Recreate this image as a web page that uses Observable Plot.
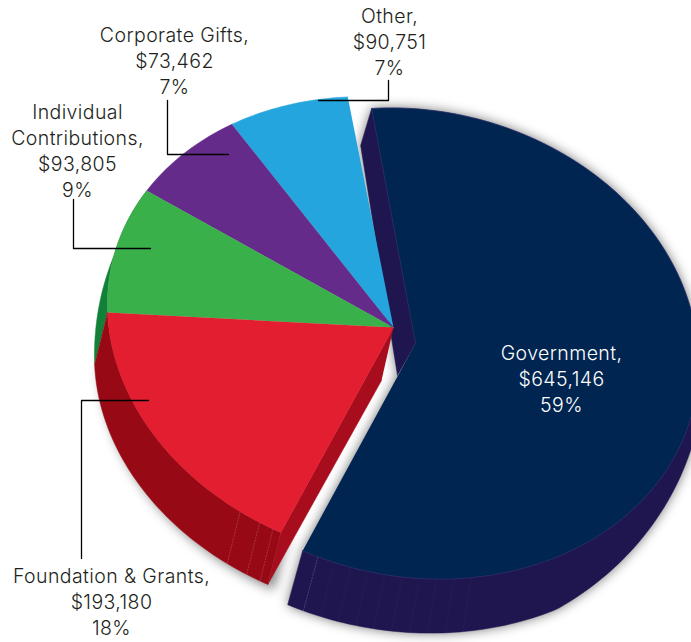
<!DOCTYPE html>
<html><head><meta charset="utf-8">
<script src="https://cdn.jsdelivr.net/npm/d3@7"></script>
<script src="https://cdn.jsdelivr.net/npm/@observablehq/plot@0.6"></script>
<style>
html,body{margin:0;padding:0;background:#fff}
svg text{letter-spacing:.4px}
</style></head><body><div id="chart"></div>
<script>
const categories = ["Government","Foundation & Grants","Individual\nContributions","Corporate Gifts","Other"];
const amounts = [645146,193180,93805,73462,90751];
const percents = [59,18,9,7,7];

const faceColors = ["#002551","#e31e30","#3ab04b","#642b8a","#25a5dd"];
const wallColors = ["#1f1650","#970a15","#128038"];
const redCutColor = "#a80d1e";
const seamDegrees = {gov:[201,197.5,194,190.5,187,183.5,180,176.5,173,169.5], red:[206,209,213.5]};

const W = 691, H = 642;
const startDeg = -8.1;
const rad = Math.PI/180;
const clamp = (v,a,b)=>Math.max(a,Math.min(b,v));
const group = {ax:393, ay:327, cx:393, cy:329, rx:286, ry:232, shear:0.072, xsk:-5.5, apexB:[-12,53],
  off:a=>[-13, 52-48*Math.max(0,Math.cos(a))]};
const gov = {ax:415, ay:343, cx:415, cy:343, rx:283, ry:235, shear:0.06, xsk:-4, apexB:[-18,32],
  off:a=>{ const deg=a/rad;
    if (deg<0) return [-11,37];
    const t=clamp((deg-95)/55,0,1);
    return [clamp(-15+(204-deg)*0.2,-15,6), 54*Math.pow(t,0.7)]; }};

const arcs = d3.pie().sort(null).startAngle(startDeg*rad).endAngle((startDeg+360)*rad)(percents);
const top_ = (g,a) => { const s=Math.sin(a), c=Math.cos(a);
  return [g.cx+g.rx*s+g.xsk*c, g.cy-g.ry*c+g.shear*g.rx*s]; };
const bot_ = (g,a) => { const [x,y]=top_(g,a), [ox,oy]=g.off(a); return [x+ox,y+oy]; };
const steps = (a0,a1) => { const n=Math.ceil((a1-a0)/0.02); return d3.range(n+1).map(i=>a0+(a1-a0)*i/n); };

const faces=[], outer=[], cuts=[];
arcs.forEach((d,i)=>{
  const g = i===0?gov:group, as=steps(d.startAngle,d.endAngle);
  const apex=[g.ax,g.ay], apexB=[g.ax+g.apexB[0],g.ay+g.apexB[1]];
  [apex,...as.map(a=>top_(g,a))].forEach(([x,y])=>faces.push({x,y,i}));
  const wallAs = i===0 ? as.filter(a=>a>=90*rad) : as;
  [...wallAs.map(a=>top_(g,a)),...wallAs.slice().reverse().map(a=>bot_(g,a))].forEach(([x,y])=>outer.push({x,y,i}));
  [apex,top_(g,d.startAngle),bot_(g,d.startAngle),apexB].forEach(([x,y])=>cuts.push({x,y,k:i+"s"}));
  [apex,top_(g,d.endAngle),bot_(g,d.endAngle),apexB].forEach(([x,y])=>cuts.push({x,y,k:i+"e"}));
});
const seams = (g,list)=>list.map(deg=>{const a=deg*rad,[x1,y1]=top_(g,a),[x2,y2]=bot_(g,a);return {x1,y1,x2,y2};});

const labelText = categories.map((c,i)=>`${c},\n$${d3.format(",")(amounts[i])}\n${percents[i]}%`);
const labelPos = [[561,377],[111,600],[77,149],[174,59],[389,40]];
const labels = labelText.map((t,i)=>({t,x:labelPos[i][0],y:labelPos[i][1],i}));
const leaders = [
  [[81,558],[81,400],[148,400]],
  [[73,199],[73,248],[150,248]],
  [[167,100],[167,154],[228,154]],
  [[318,100],[388,100],[388,80]]
].flatMap((pts,k)=>pts.map(([x,y])=>({x,y,k})));

const byI = (arr,i)=>arr.filter(d=>d.i===i);
const chart = Plot.plot({
  width:W,height:H,margin:0,
  x:{domain:[0,W],range:[0,W],axis:null},
  y:{domain:[0,H],range:[0,H],axis:null},
  marks:[
    Plot.line(byI(faces,0),{x:"x",y:"y",fill:"#000",fillOpacity:0.55,stroke:"none",imageFilter:"blur(6px)"}),
    Plot.line(byI(outer,0),{x:"x",y:"y",fill:"#000",fillOpacity:0.55,stroke:"none",imageFilter:"blur(6px)"}),
    Plot.line(cuts.filter(d=>d.k==="0s"),{x:"x",y:"y",fill:"#000",fillOpacity:0.55,stroke:"none",imageFilter:"blur(6px)"}),
    Plot.line(byI(outer,1),{x:d=>d.x+6,y:d=>d.y+5,fill:"#000",fillOpacity:0.5,stroke:"none",imageFilter:"blur(6px)"}),
    Plot.line(cuts.filter(d=>d.k==="0s"),{x:"x",y:"y",fill:wallColors[0],stroke:wallColors[0],strokeWidth:0.5}),
    ...[2,1].map(i=>Plot.line(byI(outer,i),{x:"x",y:"y",fill:wallColors[i],stroke:wallColors[i],strokeWidth:0.5})),
    Plot.line(cuts.filter(d=>d.k==="1s"),{x:"x",y:"y",fill:redCutColor,stroke:redCutColor,strokeWidth:0.5}),
    Plot.link(seams(group,seamDegrees.red),{x1:"x1",y1:"y1",x2:"x2",y2:"y2",stroke:"#fff",strokeOpacity:0.22,strokeWidth:0.8,strokeDasharray:"2 1"}),
    ...[4,3,2,1].map(i=>Plot.line(byI(faces,i),{x:"x",y:"y",fill:faceColors[i],stroke:faceColors[i],strokeWidth:0.5})),
    Plot.line(byI(outer,0),{x:"x",y:"y",fill:wallColors[0],stroke:wallColors[0],strokeWidth:0.5}),
    Plot.link(seams(gov,seamDegrees.gov),{x1:"x1",y1:"y1",x2:"x2",y2:"y2",stroke:"#fff",strokeOpacity:0.03,strokeWidth:0.8}),
    Plot.link(seams(gov,seamDegrees.gov.slice(0,1)),{x1:"x1",y1:"y1",x2:"x2",y2:"y2",stroke:"#fff",strokeOpacity:0.2,strokeWidth:0.8,strokeDasharray:"2 1"}),
    Plot.line(byI(faces,0),{x:"x",y:"y",fill:faceColors[0],stroke:"#2a2a68",strokeWidth:0.8}),
    Plot.line(leaders,{x:"x",y:"y",z:"k",stroke:"#000",strokeWidth:1.3}),
    Plot.text(labels,{x:"x",y:"y",text:"t",fontSize:19.5,lineHeight:1.34,fontFamily:"Inter",fontWeight:300,
      fill:d=>d.i===0?"#fff":"#231f20"})
  ]
});
document.getElementById("chart").append(chart);
</script></body></html>
